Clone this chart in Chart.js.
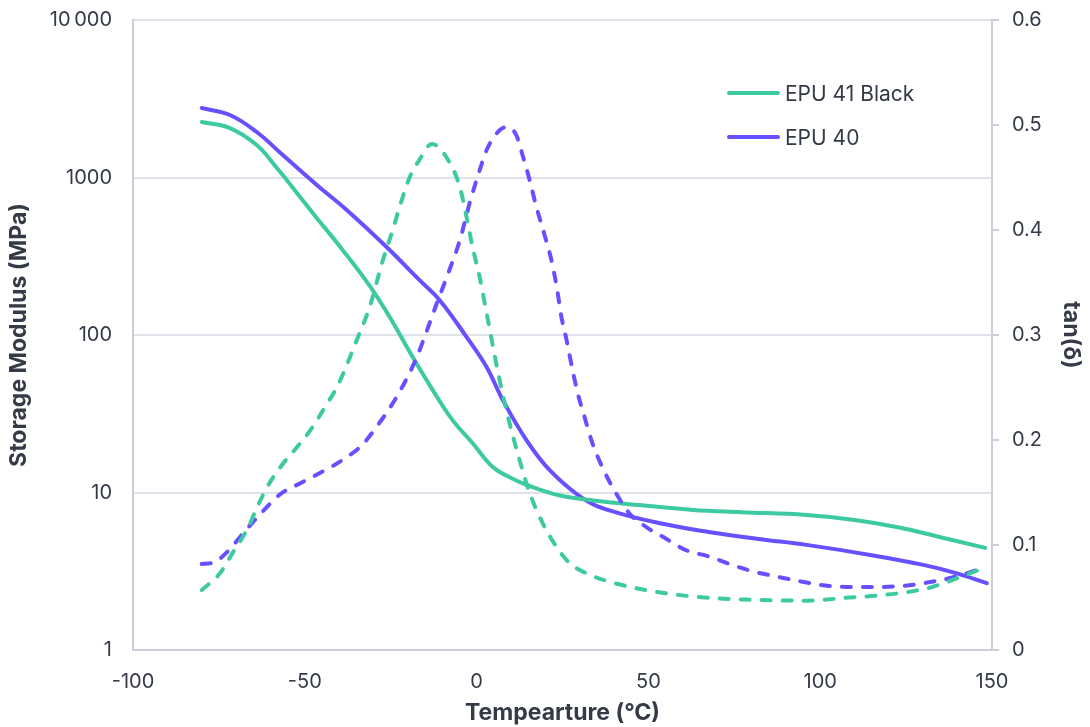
<!DOCTYPE html>
<html>
<head>
<meta charset="utf-8">
<script src="https://cdn.jsdelivr.net/npm/chart.js@4.4.0/dist/chart.umd.min.js"></script>
<style>
    body { margin: 0; background: #fff; }
    #wrap { position: relative; width: 1090px; height: 727px; }
    .legend { position: absolute; left: 727px; top: 71px; font-family: Inter, "Noto Sans", sans-serif; font-size: 21px; color: #343a46; }
    .legend div { display: flex; align-items: center; height: 44px; }
    .legend span.swatch { display: inline-block; width: 53px; height: 4px; border-radius: 2px; margin-right: 5px; }
</style>
</head>
<body>
<div id="wrap">
    <canvas id="dmaChart"></canvas>
    <div class="legend">
        <div><span class="swatch" style="background:#3dcaa0"></span>EPU 41 Black</div>
        <div><span class="swatch" style="background:#6650ff"></span>EPU 40</div>
    </div>
</div>
<script>
// Storage modulus (MPa)
const tempModG = [-80, -71.8, -64, -58.1, -52.3, -47.7, -39, -31.1, -25.3, -18.6, -12.8, -7, -1.2, 4.7, 9.6, 14.5, 24, 34, 48, 63, 77, 96, 110, 123, 135, 148];
const modG = [2250, 2060, 1607, 1148, 798, 596, 347, 205, 130, 72.4, 44.8, 28.8, 20.6, 14.5, 12.5, 11.2, 9.6, 8.9, 8.3, 7.75, 7.5, 7.2, 6.7, 6.0, 5.2, 4.45];

const tempModP = [-80, -71.8, -64, -56.4, -46.5, -37.8, -26.2, -16.6, -10.8, -2.9, 2.9, 7.6, 14.5, 21.2, 30.8, 38.7, 53, 68, 82, 96, 115, 130, 139.5, 148.5];
const modP = [2760, 2495, 1945, 1389, 896, 622, 362, 223, 167, 97, 62.7, 38.7, 21.5, 13.9, 9.2, 7.7, 6.4, 5.6, 5.07, 4.65, 4.0, 3.47, 3.08, 2.66];

// tan(delta)
const tempTanG = [-80, -74.7, -70.9, -66.6, -64, -61, -56.7, -52.3, -48, -44.2, -40.4, -34.9, -31.1, -27.3, -24.4, -22.4, -19.5, -16.6, -13, -7.8, -4.9, -2.9, -1.2, 0.9, 2.9, 6.7, 9.6, 12.5, 15.4, 19.2, 23.3, 27, 32, 38.7, 49.4, 62.8, 78.5, 95.9, 108.4, 117.2, 125, 132.6, 140.4, 148.3];
const tanG = [0.057, 0.073, 0.093, 0.116, 0.135, 0.155, 0.176, 0.193, 0.211, 0.231, 0.252, 0.295, 0.327, 0.371, 0.400, 0.422, 0.450, 0.467, 0.482, 0.464, 0.441, 0.412, 0.384, 0.355, 0.321, 0.257, 0.216, 0.181, 0.150, 0.121, 0.098, 0.083, 0.073, 0.065, 0.057, 0.051, 0.048, 0.047, 0.050, 0.052, 0.055, 0.060, 0.069, 0.079];

const tempTanP = [-80, -76.7, -72.7, -68, -62.5, -57.3, -50.6, -44.8, -39, -33.4, -28.8, -24.4, -20.9, -17.4, -11.6, -8.7, -4.9, -2, 0.9, 2.9, 6.7, 9, 11.6, 13.4, 15.4, 17.4, 19.8, 21.8, 23.3, 24.7, 26.2, 27.9, 29.4, 31.4, 33.7, 36.6, 40.1, 44.5, 49.4, 54.1, 61, 67.7, 74.4, 80.2, 87.2, 94.8, 102.6, 109.3, 117.2, 123.8, 130.8, 138.4, 148.3];
const tanP = [0.082, 0.083, 0.093, 0.111, 0.131, 0.148, 0.160, 0.170, 0.181, 0.195, 0.214, 0.235, 0.255, 0.279, 0.330, 0.355, 0.390, 0.426, 0.457, 0.476, 0.495, 0.498, 0.490, 0.471, 0.448, 0.422, 0.395, 0.371, 0.346, 0.317, 0.295, 0.267, 0.245, 0.222, 0.197, 0.174, 0.152, 0.130, 0.117, 0.108, 0.095, 0.089, 0.081, 0.075, 0.070, 0.065, 0.061, 0.060, 0.060, 0.061, 0.064, 0.069, 0.079];

const leftTicks = [1, 10, 100, 1000, 10000];

const green = '#3dcaa0';
const purple = '#6650ff';
const textColor = '#343a46';
const axisColor = '#c9ced8';
const gridColor = '#dfe2e8';

function pts(xs, ys) {
    return xs.map((x, i) => ({ x: x, y: ys[i] }));
}

// keep the tick padding from pushing the plot area down
function trimPadding(scale) {
    scale.paddingTop = 10;
    scale.paddingBottom = 10;
}

const ctx = document.getElementById('dmaChart').getContext('2d');
const dmaChart = new Chart(ctx, {
    type: 'line',
    data: {
        datasets: [
            {
                label: 'EPU 41 Black tan',
                data: pts(tempTanG, tanG),
                yAxisID: 'y1',
                borderColor: green,
                borderWidth: 4,
                borderDash: [9, 12],
                borderCapStyle: 'round',
                pointRadius: 0,
                cubicInterpolationMode: 'monotone'
            },
            {
                label: 'EPU 40 tan',
                data: pts(tempTanP, tanP),
                yAxisID: 'y1',
                borderColor: purple,
                borderWidth: 4,
                borderDash: [9, 12],
                borderCapStyle: 'round',
                pointRadius: 0,
                cubicInterpolationMode: 'monotone'
            },
            {
                label: 'EPU 41 Black',
                data: pts(tempModG, modG),
                yAxisID: 'y',
                borderColor: green,
                borderWidth: 4,
                borderCapStyle: 'round',
                pointRadius: 0,
                tension: 0.4
            },
            {
                label: 'EPU 40',
                data: pts(tempModP, modP),
                yAxisID: 'y',
                borderColor: purple,
                borderWidth: 4,
                borderCapStyle: 'round',
                pointRadius: 0,
                tension: 0.4
            }
        ]
    },
    options: {
        responsive: true,
        maintainAspectRatio: false,
        animation: false,
        layout: { padding: { top: 20, left: 0, right: 0, bottom: 0 } },
        plugins: {
            legend: { display: false },
            tooltip: { enabled: false }
        },
        scales: {
            x: {
                type: 'linear',
                min: -100,
                max: 150,
                ticks: {
                    stepSize: 50,
                    padding: 12,
                    color: textColor,
                    font: { family: 'Inter', size: 20 }
                },
                grid: { display: false },
                border: { display: true, color: axisColor, width: 2 },
                title: {
                    display: true,
                    text: 'Tempearture (°C)',
                    color: textColor,
                    font: { family: 'Inter', size: 23, weight: 'bold' },
                    padding: { top: 1, bottom: 0 }
                },
                afterFit: function(scale) { scale.height = 77; }
            },
            y: {
                type: 'logarithmic',
                position: 'left',
                min: 1,
                max: 10000,
                afterBuildTicks: function(scale) {
                    scale.ticks = leftTicks.map(v => ({ value: v }));
                },
                ticks: {
                    padding: 21,
                    color: textColor,
                    font: { family: 'Inter', size: 20 },
                    callback: function(value) {
                        return value === 10000 ? '10\u2009000' : String(value);
                    }
                },
                grid: { color: gridColor, lineWidth: 2, drawTicks: false },
                border: { display: true, color: axisColor, width: 2 },
                title: {
                    display: true,
                    text: 'Storage Modulus (MPa)',
                    color: textColor,
                    font: { family: 'Inter', size: 23, weight: 'bold' },
                    padding: { top: 5, bottom: 0 }
                },
                afterFit: function(scale) { scale.width = 133; trimPadding(scale); }
            },
            y1: {
                type: 'linear',
                position: 'right',
                min: 0,
                max: 0.6,
                ticks: {
                    stepSize: 0.1,
                    padding: 13,
                    color: textColor,
                    font: { family: 'Inter', size: 20 },
                    callback: function(value) {
                        return value === 0 ? '0' : value.toFixed(1);
                    }
                },
                grid: { drawOnChartArea: false, drawTicks: true, tickLength: 7, color: axisColor, lineWidth: 2 },
                border: { display: true, color: axisColor, width: 2 },
                title: {
                    display: true,
                    text: 'tan(δ)',
                    color: textColor,
                    font: { family: 'Inter', size: 23, weight: 'bold' },
                    padding: { top: 5, bottom: 0 }
                },
                afterFit: function(scale) { scale.width = 98; trimPadding(scale); }
            }
        }
    }
});
</script>
</body>
</html>
